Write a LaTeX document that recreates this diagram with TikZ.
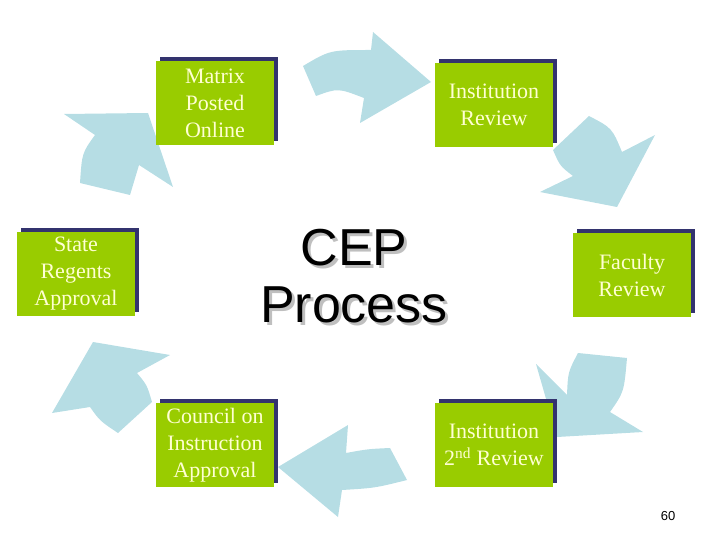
\documentclass[tikz,border=0pt]{standalone}
\usepackage{fontspec}
\setmainfont{Liberation Serif}
\newfontfamily\arialfont{Liberation Sans}
\usetikzlibrary{shadows}
\definecolor{boxgreen}{RGB}{153,204,0}
\definecolor{boxnavy}{RGB}{51,51,110}
\definecolor{cycblue}{RGB}{182,221,228}
\definecolor{boxtext}{RGB}{255,255,210}
\tikzset{
  stepbox/.style={fill=boxgreen,text=boxtext,align=center,inner sep=0pt,
             minimum width=118pt,minimum height=84pt,font=\fontsize{22}{27}\selectfont,
             drop shadow={shadow xshift=4pt,shadow yshift=4pt,fill=boxnavy,opacity=1}},
  cyc/.style={fill=cycblue,draw=none},
  ceptext/.style={align=center,inner sep=0pt,font=\arialfont\fontsize{52}{57}\selectfont},
  every picture/.style={line cap=round,line join=round}}
\begin{document}
\begin{tikzpicture}[x=1pt,y=-1pt]
  \useasboundingbox (0,0) rectangle (720,540);
  \fill[cyc] (303,66) .. controls (330,50) .. (371,50) -- (373,32) -- (431,82) -- (360,123)
    -- (364,98) .. controls (338,88) .. (316,96) -- cycle;
  \fill[cyc] (589,116) -- (553,150) .. controls (560,166) .. (573,176) -- (540,192) -- (617,207)
    -- (655,135) -- (622,152) .. controls (612,128) .. (589,116) -- cycle;
  \fill[cyc] (536,364) -- (567,395) .. controls (568,372) .. (578,353) -- (627,358)
    .. controls (624,392) .. (610,412) -- (643,432) -- (557,437) -- cycle;
  \fill[cyc] (278,467) -- (348,425) -- (346,453) .. controls (368,449) .. (390,448) -- (407,480)
    .. controls (375,488) .. (342,490) -- (338,517) -- cycle;
  \fill[cyc] (93,342) -- (170,355) -- (137,373) .. controls (147,385) .. (152,402) -- (118,433)
    .. controls (100,421) .. (90,407) -- (52,413) -- cycle;
  \fill[cyc] (64,114) -- (148,113) -- (173,187) -- (139,165) -- (130,195) -- (80,183)
    .. controls (82,153) .. (95,135) -- cycle;
  \node[stepbox] (matrix) at (215,103){Matrix\\Posted\\Online};
  \node[stepbox] (instrev) at (494,105){Institution\\Review};
  \node[stepbox] (faculty) at (632,275){Faculty\\Review};
  \node[stepbox] (instrev2) at (494,445){Institution\\2\textsuperscript{nd} Review};
  \node[stepbox] (council) at (215,445){Council on\\Instruction\\Approval};
  \node[stepbox] (regents) at (76,274){State\\Regents\\Approval};
  \node[ceptext,text=black!25] (cepshade) at (357,279){CEP\\Process};
  \node[ceptext] (cep) at (354,276){CEP\\Process};
  \node[font=\arialfont\fontsize{13}{15}\selectfont] (pagenum) at (668,516){60};
\end{tikzpicture}
\end{document}
